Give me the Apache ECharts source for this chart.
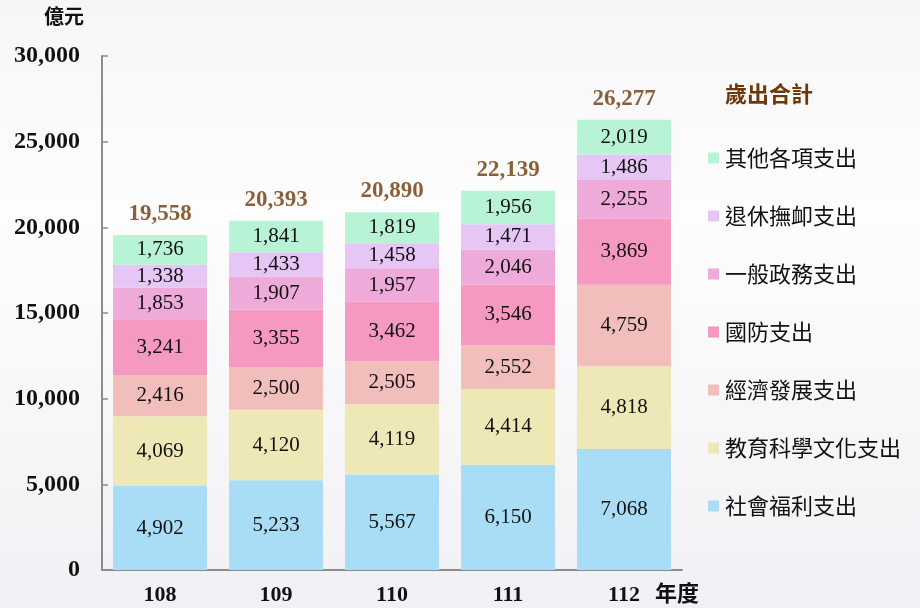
<!DOCTYPE html>
<html>
<head>
<meta charset="utf-8">
<script src="https://cdn.jsdelivr.net/npm/echarts@6/dist/echarts.min.js"></script>
<style>
html,body{margin:0;padding:0;}
#main{width:920px;height:608px;}
</style>
</head>
<body>
<div id="main"></div>
<script>
var years = ['108', '109', '110', '111', '112'];
var social = [4902, 5233, 5567, 6150, 7068];
var edu = [4069, 4120, 4119, 4414, 4818];
var econ = [2416, 2500, 2505, 2552, 4759];
var defense = [3241, 3355, 3462, 3546, 3869];
var gov = [1853, 1907, 1957, 2046, 2255];
var pension = [1338, 1433, 1458, 1471, 1486];
var other = [1736, 1841, 1819, 1956, 2019];
var totals = [19558, 20393, 20890, 22139, 26277];

var names = ['社會福利支出', '教育科學文化支出', '經濟發展支出', '國防支出', '一般政務支出', '退休撫卹支出', '其他各項支出'];
var colors = ['#a9ddf6', '#eee7b6', '#f2bebb', '#f599c1', '#eeaad9', '#e5c6f5', '#b9f3d5'];
var values = [social, edu, econ, defense, gov, pension, other];

var numFont = '"Liberation Serif", "Noto Sans CJK TC", serif';
var cjkFont = '"Noto Sans CJK TC", "Liberation Serif", serif';

function fmt(v) {
	return String(v).replace(/\B(?=(\d{3})+(?!\d))/g, ',');
}

var chart = echarts.init(document.getElementById('main'));

var series = [];
for (var i = 0; i < names.length; i++) {
	series.push({
		name: names[i],
		type: 'bar',
		stack: 'total',
		barCategoryGap: '19%',
		data: values[i],
		itemStyle: {color: colors[i]},
		label: {
			show: true,
			position: 'inside',
			color: '#111',
			fontSize: 21,
			fontFamily: numFont,
			formatter: function (p) { return fmt(p.value); }
		}
	});
}
// 歲出合計 (total above each bar)
series.push({
	name: '歲出合計',
	type: 'scatter',
	data: totals,
	symbolSize: 1,
	silent: true,
	itemStyle: {color: 'rgba(0,0,0,0)'},
	label: {
		show: true,
		position: 'top',
		distance: 9,
		color: '#6e3808',
		fontSize: 23,
		fontWeight: 'bold',
		fontFamily: numFont,
		formatter: function (p) { return fmt(p.value); }
	}
});

chart.setOption({
	backgroundColor: {
		type: 'linear', x: 0, y: 0, x2: 0, y2: 1,
		colorStops: [
			{offset: 0, color: '#f6f6f9'},
			{offset: 0.35, color: '#fdfdfd'},
			{offset: 1, color: '#f1f1f5'}
		]
	},
	animation: false,
	title: {
		text: '歲出合計',
		left: 720,
		top: 78,
		textStyle: {
			color: '#6e3808',
			fontSize: 22,
			fontWeight: 'bold',
			fontFamily: cjkFont
		}
	},
	legend: {
		data: names.slice().reverse(),
		orient: 'vertical',
		left: 703,
		top: 142,
		itemGap: 36,
		itemWidth: 11,
		itemHeight: 11,
		icon: 'rect',
		textStyle: {
			color: '#111',
			fontSize: 22,
			fontFamily: cjkFont,
			padding: [0, 0, 0, 1]
		}
	},
	grid: {
		left: 102,
		right: 238,
		top: 56,
		bottom: 38,
		outerBoundsMode: 'none'
	},
	xAxis: {
		type: 'category',
		data: years,
		name: '年度',
		nameLocation: 'end',
		nameGap: -27,
		nameTextStyle: {
			color: '#111',
			fontSize: 22,
			fontWeight: 'bold',
			fontFamily: cjkFont,
			verticalAlign: 'top',
			padding: [12, 0, 0, 0]
		},
		axisLine: {lineStyle: {color: '#8c8c8c', width: 2}},
		axisTick: {show: false},
		axisLabel: {
			color: '#111',
			fontSize: 22,
			fontWeight: 'bold',
			fontFamily: numFont,
			margin: 14
		}
	},
	yAxis: {
		type: 'value',
		min: 0,
		max: 30000,
		interval: 5000,
		name: '億元',
		nameLocation: 'end',
		nameGap: 30,
		nameTextStyle: {
			color: '#111',
			fontSize: 20,
			fontWeight: 'bold',
			fontFamily: cjkFont,
			align: 'right',
			padding: [0, 18, 0, 0]
		},
		splitLine: {show: false},
		axisLine: {show: true, lineStyle: {color: '#8c8c8c', width: 2}},
		axisTick: {show: true, inside: true, length: 6, lineStyle: {color: '#8c8c8c', width: 1.5}},
		axisLabel: {
			color: '#111',
			fontSize: 24,
			fontWeight: 'bold',
			fontFamily: numFont,
			margin: 22,
			formatter: function (v) { return fmt(v); }
		}
	},
	series: series
});
</script>
</body>
</html>
